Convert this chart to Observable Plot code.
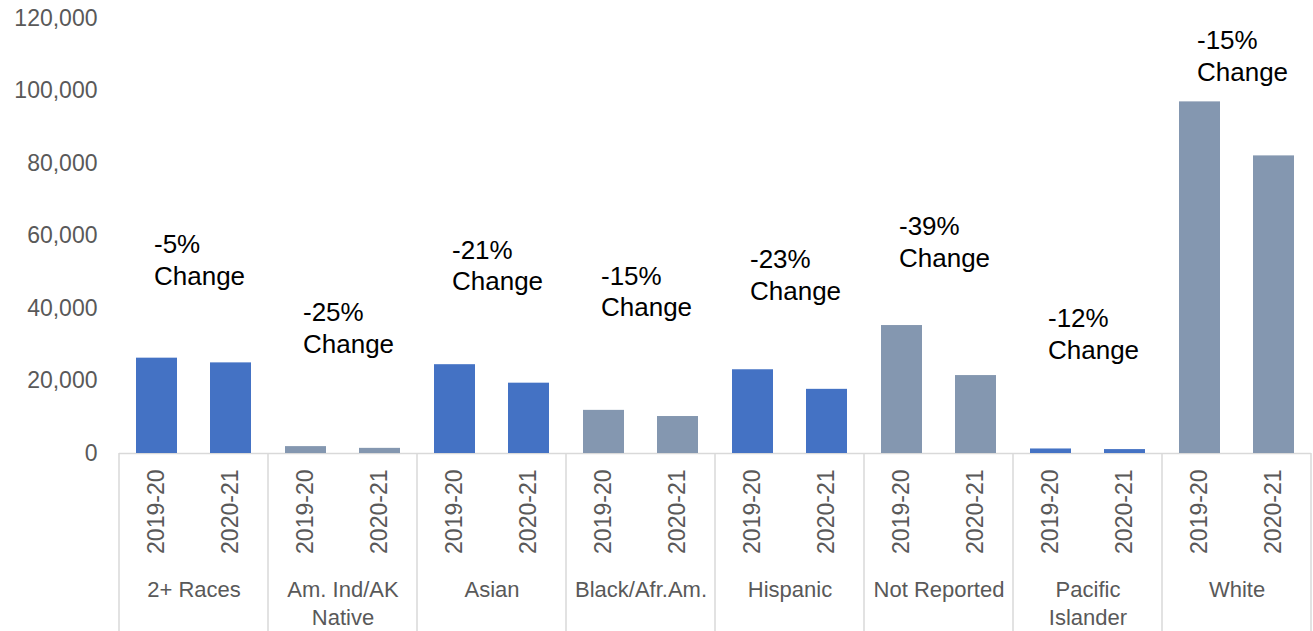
<!DOCTYPE html>
<html><head><meta charset="utf-8">
<script src="https://cdn.jsdelivr.net/npm/d3@7"></script>
<script src="https://cdn.jsdelivr.net/npm/@observablehq/plot@0.6"></script>
<style>body{margin:0;background:#fff;} #chart{width:1313px;height:631px;}</style>
</head><body><div id="chart"></div>
<script>
const races = ["2+ Races","Am. Ind/AK Native","Asian","Black/Afr.Am.","Hispanic","Not Reported","Pacific Islander","White"];
const raceTickLabels = ["2+ Races","Am. Ind/AK\nNative","Asian","Black/Afr.Am.","Hispanic","Not Reported","Pacific\nIslander","White"];
const years = ["2019-20","2020-21"];
const values2019_20 = [26300, 1900, 24500, 11900, 23100, 35300, 1250, 97000];
const values2020_21 = [25000, 1420, 19400, 10200, 17700, 21500, 1080, 82100];
const percentChange = [-5, -25, -21, -15, -23, -39, -12, -15];
const labelY = [53700, 34900, 52200, 45000, 49600, 58600, 33300, 110000];
const highlighted = ["2+ Races","Asian","Hispanic","Pacific Islander"];
const yTicks = [0, 20000, 40000, 60000, 80000, 100000, 120000];

const bars = races.flatMap((r, i) => [
  {race: r, year: years[0], value: values2019_20[i]},
  {race: r, year: years[1], value: values2020_21[i]}
]);
const notes = races.map((r, i) => ({race: r, y: labelY[i], text: `${percentChange[i]}%\nChange`}));

const chart = Plot.plot({
  width: 1313, height: 631,
  marginLeft: 119, marginRight: 2, marginTop: 18, marginBottom: 178,
  style: {fontFamily: "'Liberation Sans', Arial, sans-serif", background: "#fff", overflow: "visible"},
  fx: {domain: races, padding: 0},
  x: {domain: years, paddingInner: 0.44, paddingOuter: 0.22},
  y: {domain: [0, 120000]},
  marks: [
    Plot.ruleY([0], {stroke: "#d9d9d9", strokeWidth: 1.5}),
    Plot.barY(bars, {fx: "race", x: "year", y: "value",
      fill: d => highlighted.includes(d.race) ? "#4472C4" : "#8497B0"}),
    Plot.text(notes, {fx: "race", x: () => years[0], y: "y", text: "text",
      textAnchor: "start", dx: -3, fontSize: 26, lineHeight: 1.22, fill: "#000"}),
    Plot.axisY({ticks: yTicks, tickSize: 0, tickPadding: 22, tickFormat: d3.format(","),
      fontSize: 23, color: "#595959", label: null}),
    Plot.axisX({tickRotate: -90, tickSize: 0, tickPadding: 16, fontSize: 23, color: "#595959", label: null}),
    Plot.axisFx({anchor: "bottom", tickSize: 0, tickPadding: 124, fontSize: 22, color: "#595959",
      label: null, lineHeight: 1.27, tickFormat: d => raceTickLabels[races.indexOf(d)]})
  ]
});

// group separators on the category axis, positioned with Plot's own scales
const fx = chart.scale("fx");
const y = chart.scale("y");
const edges = races.map(r => fx.apply(r)).concat([fx.apply(races[races.length - 1]) + fx.bandwidth]);
const g = d3.select(chart).append("g").attr("stroke", "#d9d9d9").attr("stroke-width", 1.5);
edges.forEach(xp => {
  g.append("line").attr("x1", xp).attr("x2", xp).attr("y1", y.apply(0)).attr("y2", 631);
});

document.getElementById("chart").appendChild(chart);
</script>
</body></html>
